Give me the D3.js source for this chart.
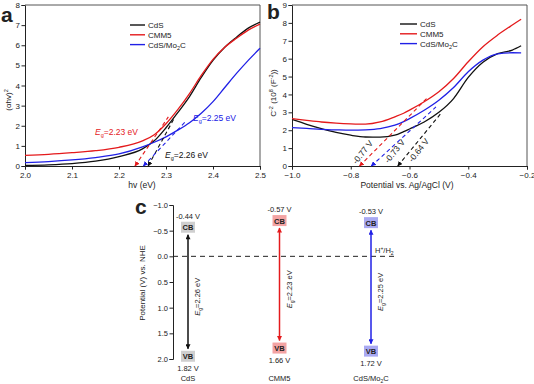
<!DOCTYPE html>
<html><head><meta charset="utf-8">
<script src="https://cdn.jsdelivr.net/npm/d3@7"></script>
<style>body{margin:0;background:#fff} svg{display:block} text{font-family:"Liberation Sans",Arial,sans-serif;fill:#222}</style>
</head><body><svg id="c" width="534" height="384"></svg>
<script>
// ---------- data ----------
const seriesNames = ["CdS", "CMM5", "CdS/Mo2C"];
const seriesColors = ["#111111", "#e41a1c", "#2020e6"];

// panel a: Tauc plot
const aHv   = [2.0, 2.05, 2.1, 2.15, 2.2, 2.25, 2.275, 2.3, 2.325, 2.35, 2.375, 2.4, 2.425, 2.45, 2.475, 2.5];
const aCdS  = [0.03, 0.06, 0.12, 0.24, 0.47, 0.85, 1.25, 1.9, 2.65, 3.45, 4.4, 5.25, 5.9, 6.4, 6.85, 7.15];
const aCMM5 = [0.53, 0.58, 0.66, 0.76, 0.93, 1.25, 1.55, 2.1, 2.8, 3.6, 4.5, 5.3, 5.9, 6.35, 6.75, 7.05];
const aMo2C = [0.17, 0.22, 0.3, 0.42, 0.6, 0.95, 1.18, 1.45, 1.78, 2.15, 2.62, 3.2, 3.9, 4.6, 5.25, 5.85];
const aTangents = [[2.262, 0, 2.319, 2.44], [2.234, 0, 2.305, 2.44], [2.252, 0, 2.344, 2.27]];
const aEg = ["2.26", "2.23", "2.25"];
const aXTicks = [2.0, 2.1, 2.2, 2.3, 2.4, 2.5];
const aYTicks = [0, 1, 2, 3, 4, 5, 6, 7, 8];

// panel b: Mott-Schottky
const bV    = [-1.0, -0.95, -0.9, -0.85, -0.8, -0.75, -0.7, -0.65, -0.62, -0.6, -0.55, -0.5, -0.45, -0.4, -0.35, -0.3, -0.25, -0.22];
const bCdS  = [2.6, 2.33, 2.09, 1.88, 1.72, 1.62, 1.61, 1.72, 1.92, 2.07, 2.46, 3.0, 3.77, 4.95, 5.8, 6.28, 6.48, 6.72];
const bCMM5 = [2.65, 2.55, 2.46, 2.4, 2.36, 2.34, 2.46, 2.75, 2.95, 3.12, 3.59, 4.15, 4.89, 5.83, 6.67, 7.32, 7.88, 8.2];
const bMo2C = [2.14, 2.1, 2.05, 2.02, 2.0, 2.02, 2.09, 2.28, 2.48, 2.65, 3.12, 3.68, 4.39, 5.27, 5.92, 6.27, 6.33, 6.32];
const bTangents = [[-0.64, 0, -0.49, 3.0], [-0.77, 0, -0.54, 3.8], [-0.73, 0, -0.51, 3.3]];
const bFlat = ["-0.64 V", "-0.77 V", "-0.73 V"];
const bXTicks = [-1.0, -0.8, -0.6, -0.4, -0.2];
const bYTicks = [0, 1, 2, 3, 4, 5, 6, 7, 8, 9];

// panel c: band positions
const cCB = [-0.44, -0.57, -0.53];
const cVB = [1.82, 1.66, 1.72];
const cEg = ["2.26", "2.23", "2.25"];
const cBoxFill = ["#cfcfcf", "#f3a3a3", "#a9a9f2"];
const cYTicks = [-1.0, -0.5, 0.0, 0.5, 1.0, 1.5, 2.0];

// ---------- drawing ----------
const svg = d3.select("#c");
const FONT = 8;
const defs = svg.append("defs");
seriesColors.forEach((c, i) => {
  defs.append("marker").attr("id", "ah" + i).attr("viewBox", "0 0 10 10")
    .attr("refX", 9).attr("refY", 5).attr("markerWidth", 5).attr("markerHeight", 5)
    .attr("markerUnits", "userSpaceOnUse").attr("orient", "auto-start-reverse")
    .append("path").attr("d", "M0,0L10,5L0,10z").attr("fill", c);
  defs.append("marker").attr("id", "bh" + i).attr("viewBox", "0 0 10 10")
    .attr("refX", 9).attr("refY", 5).attr("markerWidth", 6).attr("markerHeight", 5)
    .attr("markerUnits", "userSpaceOnUse").attr("orient", "auto-start-reverse")
    .append("path").attr("d", "M0,0L10,5L0,10z").attr("fill", c);
});

function styleAxis(g) {
  g.selectAll("path,line").attr("stroke", "#222").attr("stroke-width", 1);
  g.selectAll("text").style("font-size", FONT + "px").attr("fill", "#222");
}

function drawPanel(o) {
  const x = d3.scaleLinear().domain(o.xDom).range([o.left, o.right]);
  const y = d3.scaleLinear().domain(o.yDom).range([o.bottom, o.top]);
  const gx = svg.append("g").attr("transform", `translate(0,${o.bottom})`);
  gx.call(d3.axisBottom(x).tickValues(d3.range(o.xDom[0], o.xDom[1] + 1e-9, o.xMinor)).tickSize(2).tickFormat(""));
  gx.call(d3.axisBottom(x).tickValues(o.xTicks).tickSize(3.5).tickPadding(2.5).tickFormat(d3.format(".1f")));
  styleAxis(gx);
  const gy = svg.append("g").attr("transform", `translate(${o.left},0)`);
  gy.call(d3.axisLeft(y).tickValues(d3.range(o.yDom[0], o.yDom[1] + 1e-9, 0.5)).tickSize(2).tickFormat(""));
  gy.call(d3.axisLeft(y).tickValues(o.yTicks).tickSize(3.5).tickPadding(1.5).tickFormat(d3.format("d")));
  styleAxis(gy);
  svg.append("path").attr("d", `M${o.left},${o.top}H${o.right}V${o.bottom}`)
    .attr("fill", "none").attr("stroke", "#555").attr("stroke-width", 1);
  const line = d3.line().x(d => x(d[0])).y(d => y(d[1])).curve(d3.curveMonotoneX);
  o.series.forEach((s, i) => {
    svg.append("path").datum(o.xs.map((v, k) => [v, s[k]]))
      .attr("d", line).attr("fill", "none").attr("stroke", seriesColors[i]).attr("stroke-width", 1.3);
  });
  o.tangents.forEach((t, i) => {
    svg.append("line").attr("x1", x(t[0])).attr("y1", y(t[1])).attr("x2", x(t[2])).attr("y2", y(t[3]))
      .attr("stroke", seriesColors[i]).attr("stroke-width", 1.1).attr("stroke-dasharray", "4,3")
      .attr("marker-start", `url(#ah${i})`);
  });
  seriesNames.forEach((n, i) => {
    const yy = o.legY + i * 9.8;
    svg.append("line").attr("x1", o.legX).attr("x2", o.legX + o.legW).attr("y1", yy).attr("y2", yy)
      .attr("stroke", seriesColors[i]).attr("stroke-width", 1.4);
    const t = svg.append("text").attr("x", o.legX + o.legW + 3).attr("y", yy + 3).style("font-size", "8px");
    if (n === "CdS/Mo2C") {
      t.append("tspan").text("CdS/Mo");
      t.append("tspan").text("2").style("font-size", "5.5px").attr("dy", 2);
      t.append("tspan").text("C").attr("dy", -2);
    } else t.text(n);
  });
  svg.append("text").attr("x", o.labX).attr("y", o.labY).text(o.lab)
    .style("font-size", "21px").style("font-weight", "bold").attr("fill", "#000");
  return {x, y};
}

// panel a
drawPanel({
  xDom: [2.0, 2.5], yDom: [0, 8], left: 25, right: 260, top: 5, bottom: 166,
  xTicks: aXTicks, yTicks: aYTicks, xMinor: 0.05,
  xs: aHv, series: [aCdS, aCMM5, aMo2C], tangents: aTangents,
  legX: 130, legW: 15, legY: 25, lab: "a", labX: 1, labY: 22
});
(function () {
  const t = svg.append("text").attr("transform", "translate(11,100) rotate(-90)").attr("text-anchor", "middle").style("font-size", "8px");
  t.append("tspan").text("(αhv)");
  t.append("tspan").text("2").style("font-size", "5.5px").attr("dy", -3);
  svg.append("text").attr("x", 142).attr("y", 187.5).attr("text-anchor", "middle").style("font-size", "8.5px").text("hv (eV)");
})();
function egLabel(xp, yp, val, color, size) {
  const t = svg.append("text").attr("x", xp).attr("y", yp).style("font-size", size + "px").attr("fill", color);
  t.append("tspan").text("E").style("font-style", "italic").attr("fill", color);
  t.append("tspan").text("g").style("font-size", (size * 0.65) + "px").attr("dy", 2).attr("fill", color);
  t.append("tspan").text("=" + val + " eV").attr("dy", -2).attr("fill", color);
  return t;
}
egLabel(95, 135, aEg[1], seriesColors[1], 8.5);
egLabel(193, 121, aEg[2], seriesColors[2], 8.5);
egLabel(165, 158, aEg[0], seriesColors[0], 8.5);

// panel b
drawPanel({
  xDom: [-1.0, -0.2], yDom: [0, 9], left: 292, right: 527, top: 5, bottom: 166,
  xTicks: bXTicks, yTicks: bYTicks, xMinor: 0.1,
  xs: bV, series: [bCdS, bCMM5, bMo2C], tangents: bTangents,
  legX: 400, legW: 17, legY: 24, lab: "b", labX: 267, labY: 19
});
(function () {
  const t = svg.append("text").attr("transform", "translate(276,93) rotate(-90)").attr("text-anchor", "middle").style("font-size", "8px");
  t.append("tspan").text("C");
  t.append("tspan").text("-2").style("font-size", "5.5px").attr("dy", -3);
  t.append("tspan").text(" (10").attr("dy", 3);
  t.append("tspan").text("8").style("font-size", "5.5px").attr("dy", -3);
  t.append("tspan").text(" (F").attr("dy", 3);
  t.append("tspan").text("-2").style("font-size", "5.5px").attr("dy", -3);
  t.append("tspan").text("))").attr("dy", 3);
  svg.append("text").attr("x", 407).attr("y", 187.5).attr("text-anchor", "middle").style("font-size", "8.5px").text("Potential vs. Ag/AgCl (V)");
  const pos = [[421, 152], [365, 154], [397, 153]];
  bFlat.forEach((s, i) => {
    svg.append("text").attr("transform", `translate(${pos[i][0]},${pos[i][1]}) rotate(-52)`)
      .attr("text-anchor", "middle").style("font-size", "8.5px").attr("fill", seriesColors[i]).text(s);
  });
})();

// panel c
(function () {
  const left = 173;
  const y = d3.scaleLinear().domain([-1, 2]).range([205, 359]);
  const x = d3.scalePoint().domain(seriesNames).range([188, 371]);
  const gy = svg.append("g").attr("transform", `translate(${left},0)`);
  gy.call(d3.axisLeft(y).tickValues(d3.range(-1, 2.001, 0.25)).tickSize(2).tickFormat(""));
  gy.call(d3.axisLeft(y).tickValues(cYTicks).tickSize(3.5).tickPadding(1.5).tickFormat(d3.format(".1f")));
  styleAxis(gy);
  gy.selectAll("text").style("font-size", "7.5px");
  svg.append("text").attr("transform", `translate(145,283) rotate(-90)`).attr("text-anchor", "middle")
    .style("font-size", "8px").text("Potential (V) vs. NHE");
  svg.append("text").attr("x", 135).attr("y", 214).text("c").style("font-size", "21px").style("font-weight", "bold").attr("fill", "#000");
  svg.append("line").attr("x1", left).attr("x2", 397).attr("y1", y(0)).attr("y2", y(0))
    .attr("stroke", "#222").attr("stroke-width", 1).attr("stroke-dasharray", "5,4");
  const h = svg.append("text").attr("x", 375).attr("y", 253).style("font-size", "7.5px");
  h.append("tspan").text("H");
  h.append("tspan").text("+").style("font-size", "5px").attr("dy", -3);
  h.append("tspan").text("/H").attr("dy", 3);
  h.append("tspan").text("2").style("font-size", "5px").attr("dy", 2);
  const bw = 14, bh = 11;
  seriesNames.forEach((n, i) => {
    const cx = x(n), yc = y(cCB[i]), yv = y(cVB[i]);
    svg.append("line").attr("x1", cx).attr("x2", cx).attr("y1", yc + 1).attr("y2", yv - 1)
      .attr("stroke", seriesColors[i]).attr("stroke-width", 1.5)
      .attr("marker-start", `url(#bh${i})`).attr("marker-end", `url(#bh${i})`);
    svg.append("rect").attr("x", cx - bw / 2).attr("y", yc - bh - 1).attr("width", bw).attr("height", bh).attr("fill", cBoxFill[i]);
    svg.append("text").attr("x", cx).attr("y", yc - 3.5).attr("text-anchor", "middle").style("font-size", "7.5px").style("font-weight", "bold").attr("fill", "#333").text("CB");
    svg.append("text").attr("x", cx).attr("y", yc - bh - 4).attr("text-anchor", "middle").style("font-size", "7.5px").text(cCB[i].toFixed(2) + " V");
    svg.append("rect").attr("x", cx - bw / 2).attr("y", yv + 1).attr("width", bw).attr("height", bh).attr("fill", cBoxFill[i]);
    svg.append("text").attr("x", cx).attr("y", yv + bh - 1.5).attr("text-anchor", "middle").style("font-size", "7.5px").style("font-weight", "bold").attr("fill", "#333").text("VB");
    svg.append("text").attr("x", cx).attr("y", yv + bh + 10).attr("text-anchor", "middle").style("font-size", "7.5px").text(cVB[i].toFixed(2) + " V");
    const t = svg.append("text").attr("x", cx).attr("y", 381).attr("text-anchor", "middle").style("font-size", "7.5px");
    if (n === "CdS/Mo2C") {
      t.append("tspan").text("CdS/Mo");
      t.append("tspan").text("2").style("font-size", "5px").attr("dy", 2);
      t.append("tspan").text("C").attr("dy", -2);
    } else t.text(n);
    const mid = (yc + yv) / 2 + 5;
    const e = svg.append("text").attr("transform", `translate(${cx + 12},${mid}) rotate(-90)`)
      .attr("text-anchor", "middle").style("font-size", "7.5px");
    e.append("tspan").text("E").style("font-style", "italic");
    e.append("tspan").text("g").style("font-size", "5px").attr("dy", 2);
    e.append("tspan").text("=" + cEg[i] + " eV").attr("dy", -2);
  });
})();
</script></body></html>
